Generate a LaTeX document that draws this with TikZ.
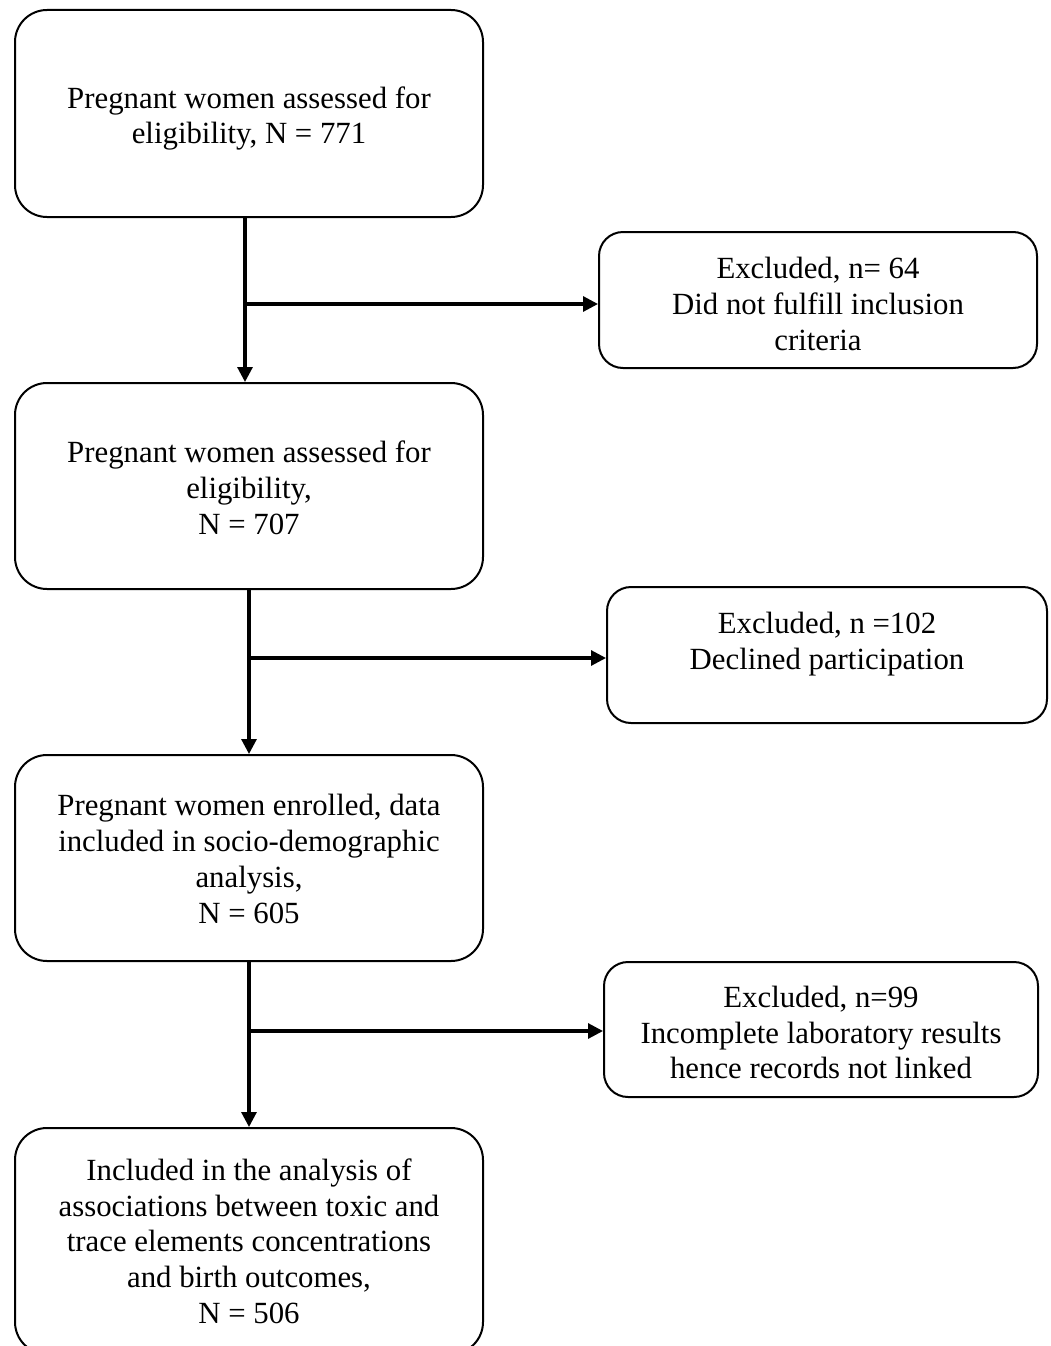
\documentclass[tikz,border=0pt]{standalone}
\usepackage{fontspec}
\setmainfont{Liberation Serif}
\usetikzlibrary{arrows.meta,calc}
\newcommand\ctext[2]{\raisebox{#1}[\height][\depth]{\vbox{\halign{\hfil##\hfil\cr#2\crcr}}}}
\begin{document}
\begin{tikzpicture}[x=1pt,y=-1pt,
  bigbox/.style={draw=black,line width=2pt,rounded corners=32pt,minimum width=468pt,inner sep=0pt,font=\fontsize{30.8}{35.7}\selectfont},
  exbox/.style={draw=black,line width=2pt,rounded corners=24pt,inner sep=0pt,font=\fontsize{30.8}{35.7}\selectfont},
  arr/.style={line width=3.1pt,-{Triangle[length=15pt,width=15pt]}}]
\useasboundingbox[fill=white] (0,0) rectangle (1050,1346);
\node[bigbox,minimum height=207pt] (b1) at (249,113.5) {\ctext{-5pt}{Pregnant women assessed for\cr eligibility, N = 771}};
\node[bigbox,minimum height=206pt] (b3) at (249,486) {\ctext{-2pt}{Pregnant women assessed for\cr eligibility,\cr N = 707}};
\node[bigbox,minimum height=206pt] (b5) at (249,858) {\ctext{-1pt}{Pregnant women enrolled, data\cr included in socio-demographic\cr analysis,\cr N = 605}};
\node[bigbox,minimum height=226pt] (b7) at (249,1241) {\ctext{0pt}{Included in the analysis of\cr associations between toxic and\cr trace elements concentrations\cr and birth outcomes,\cr N = 506}};
\node[exbox,minimum width=438pt,minimum height=136pt] (e1) at (818,300) {\ctext{-4pt}{Excluded, n= 64\cr Did not fulfill inclusion\cr criteria}};
\node[exbox,minimum width=440pt,minimum height=136pt] (e2) at (827,655) {\ctext{11pt}{Excluded, n =102\cr Declined participation}};
\node[exbox,minimum width=434pt,minimum height=135pt] (e3) at (821,1029.5) {\ctext{-3pt}{Excluded, n=99\cr Incomplete laboratory results\cr hence records not linked}};
\coordinate (j1) at (245,304);
\coordinate (j2) at (249,658);
\coordinate (j3) at (249,1031);
\draw[arr] ([xshift=-4pt]b1.south) -- ([xshift=-4pt]b3.north);
\draw[arr] (j1) -- (e1.west |- j1);
\draw[arr] (b3.south) -- (b5.north);
\draw[arr] (j2) -- (e2.west |- j2);
\draw[arr] (b5.south) -- (b7.north);
\draw[arr] (j3) -- (e3.west |- j3);
\end{tikzpicture}
\end{document}
